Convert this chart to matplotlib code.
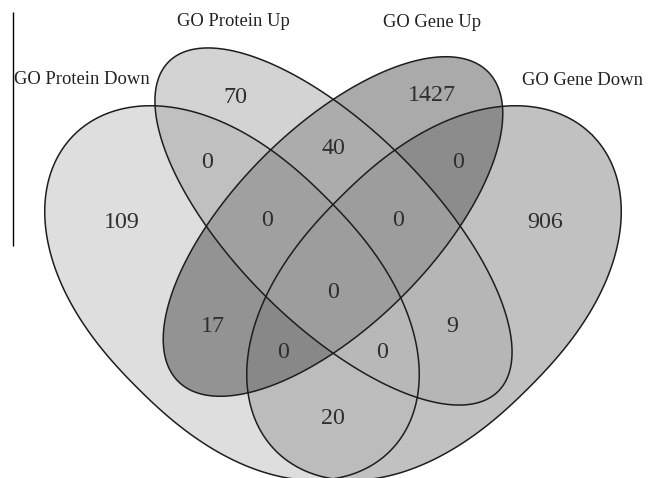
import numpy as np
import matplotlib.pyplot as plt
from matplotlib.patches import Polygon

# set names (A, B, C, D)
set_names = ["GO Protein Down", "GO Protein Up", "GO Gene Up", "GO Gene Down"]

# regions as membership codes in A B C D order, with their counts
region_codes = ["1000", "0100", "0010", "0001",
                "1100", "1010", "1001", "0110", "0101", "0011",
                "1110", "1101", "1011", "0111", "1111"]
region_counts = [109, 70, 1427, 906,
                 0, 17, 20, 40, 9, 0,
                 0, 0, 0, 0, 0]

# layout (pixel coords, y down)
shapes = [  # cx, cy, half length, half width, angle, end exponent
    (232, 293, 223.5, 134, 45, 2.3),
    (333.5, 226.5, 233, 97.3, 45, 2.0),
    (333, 226.5, 219, 98.4, -45, 2.0),
    (434, 293, 223.5, 134, -45, 2.3),
]
name_pos = [(82, 79), (233, 21), (432, 22), (583, 80)]
count_pos = {
    "1000": (122, 222), "0100": (235, 97), "0010": (432, 95), "0001": (545, 222),
    "1100": (207, 162), "1010": (213, 327), "1001": (333, 419), "0110": (333, 148),
    "0101": (452, 327), "0011": (458, 162),
    "1110": (267, 220), "1101": (382, 353), "1011": (283, 353), "0111": (398, 220),
    "1111": (333, 293),
}
gray = {
    "0000": 255,
    "1000": 222, "0100": 212, "0010": 170, "0001": 193,
    "1100": 192, "1010": 148, "1001": 188, "0110": 172, "0101": 182, "0011": 140,
    "1110": 160, "1101": 184, "1011": 136, "0111": 158, "1111": 158,
}

W, H = 661, 478
fig = plt.figure(figsize=(W / 100, H / 100), dpi=100)
ax = fig.add_axes([0, 0, 1, 1])
ax.set_xlim(0, W)
ax.set_ylim(H, 0)
ax.axis("off")


def local(x, y, cx, cy, ang):
    t = np.deg2rad(ang)
    dx, dy = x - cx, y - cy
    return dx * np.cos(t) + dy * np.sin(t), -dx * np.sin(t) + dy * np.cos(t)


def outline(cx, cy, a, b, ang, n):
    t = np.linspace(0, 2 * np.pi, 720)
    c = np.cos(t)
    u = a * np.sign(c) * np.abs(c) ** (2 / n)
    v = b * np.sin(t)
    r = np.deg2rad(ang)
    return np.column_stack([cx + u * np.cos(r) - v * np.sin(r),
                            cy + u * np.sin(r) + v * np.cos(r)])


# fill each region with its own shade
s = 2
xx, yy = np.meshgrid((np.arange(W * s) + 0.5) / s, (np.arange(H * s) + 0.5) / s)
code = np.zeros(xx.shape, dtype=int)
for i, (cx, cy, a, b, ang, n) in enumerate(shapes):
    u, v = local(xx, yy, cx, cy, ang)
    code += (np.abs(u / a) ** n + (v / b) ** 2 <= 1).astype(int) << (3 - i)
lut = np.zeros(16)
for k, g in gray.items():
    lut[int(k, 2)] = g / 255
ax.imshow(lut[code], cmap="gray", vmin=0, vmax=1, extent=(0, W, H, 0),
          interpolation="antialiased")

for sh in shapes:
    ax.add_patch(Polygon(outline(*sh), closed=True, fill=False,
                         edgecolor="#1e1e1e", lw=1.1))

for name, (x, y) in zip(set_names, name_pos):
    ax.text(x, y, name, ha="center", va="center", fontsize=13.4,
            family="Liberation Serif", color="#222222")

for c, n in zip(region_codes, region_counts):
    x, y = count_pos[c]
    ax.text(x, y, str(n), ha="center", va="center", fontsize=17.3,
            family="Liberation Serif", color="#2e2e2e")

ax.vlines(13, 12, 246, color="black", lw=1)

fig.savefig("out.png", dpi=100)
